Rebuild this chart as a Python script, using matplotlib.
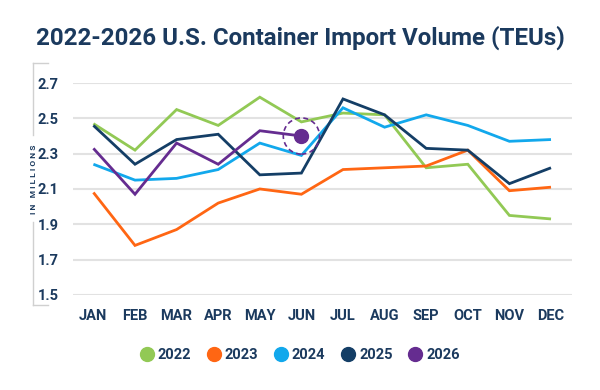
import matplotlib
matplotlib.use("Agg")
from matplotlib import pyplot as plt
from matplotlib.lines import Line2D

plt.rcParams['font.family'] = ['Roboto', 'DejaVu Sans']

months = ["JAN", "FEB", "MAR", "APR", "MAY", "JUN",
          "JUL", "AUG", "SEP", "OCT", "NOV", "DEC"]
yticks = [1.5, 1.7, 1.9, 2.1, 2.3, 2.5, 2.7]

v2022 = [2.47, 2.32, 2.55, 2.46, 2.62, 2.48, 2.53, 2.52, 2.22, 2.24, 1.95, 1.93]
v2023 = [2.08, 1.78, 1.87, 2.02, 2.10, 2.07, 2.21, 2.22, 2.23, 2.32, 2.09, 2.11]
v2024 = [2.24, 2.15, 2.16, 2.21, 2.36, 2.29, 2.56, 2.45, 2.52, 2.46, 2.37, 2.38]
v2025 = [2.46, 2.24, 2.38, 2.41, 2.18, 2.19, 2.61, 2.52, 2.33, 2.32, 2.13, 2.22]
v2026 = [2.33, 2.07, 2.36, 2.24, 2.43, 2.40]

series = [("2022", v2022, "#92c955"),
          ("2023", v2023, "#ff6613"),
          ("2024", v2024, "#12a8ec"),
          ("2025", v2025, "#143e66"),
          ("2026", v2026, "#652c90")]

navy = "#1b3a5e"

fig = plt.figure(figsize=(6, 3.9), dpi=100)
ax = fig.add_axes([0.121, 0.244, 0.832, 0.543])

for name, vals, col in series:
    ax.plot(range(len(vals)), vals, color=col, lw=2.0, solid_capstyle="butt",
            solid_joinstyle="miter", zorder=3)

# highlight latest 2026 point
last = len(v2026) - 1
ax.scatter([last], [v2026[last]], s=100, color="#652c90", zorder=5)
ax.scatter([last], [v2026[last]], s=680, facecolors="none", edgecolors="#652c90",
           linewidths=1.2, linestyles=(0, (3, 2)), zorder=5)

ax.set_xlim(-0.5, 11.5)
ax.set_ylim(1.5, 2.7)
ax.set_yticks(yticks)
ax.set_yticklabels([f"{t:.1f}" for t in yticks])
ax.set_xticks(range(12))
ax.set_xticklabels(months)
ax.grid(axis="y", color="#e2e2e2", lw=1.5, zorder=0)
ax.tick_params(length=0, labelsize=10.5, labelcolor=navy, pad=10)
for lab in ax.get_xticklabels() + ax.get_yticklabels():
    lab.set_fontweight("bold")
for s in ax.spines.values():
    s.set_visible(False)

fig.text(0.5, 0.903, "2022-2026 U.S. Container Import Volume (TEUs)",
         ha="center", va="center", fontsize=17.4, fontweight="bold", color=navy)

# left bracket with "IN MILLIONS"
bc = "#d0d0d0"
fig.add_artist(Line2D([0.055, 0.055], [1 - 63 / 390, 1 - 135 / 390], color=bc, lw=1))
fig.add_artist(Line2D([0.055, 0.055], [1 - 222 / 390, 1 - 305 / 390], color=bc, lw=1))
fig.add_artist(Line2D([0.055, 0.08], [1 - 63 / 390] * 2, color=bc, lw=1))
fig.add_artist(Line2D([0.055, 0.08], [1 - 305 / 390] * 2, color=bc, lw=1))
fig.text(0.055, 1 - 179 / 390, "I N   M I L L I O N S", rotation=90, ha="center",
         va="center", fontsize=6, fontweight="bold", color=navy)

handles = [Line2D([], [], ls="none", marker="o", ms=10, color=c, label=n)
           for n, _, c in series]
fig.legend(handles=handles, loc="center", bbox_to_anchor=(0.5, 0.09), ncol=5,
           frameon=False, handlelength=0.9, handletextpad=0.3, columnspacing=1.1,
           prop={"weight": "bold", "size": 10.5}, labelcolor=navy)

fig.savefig("out.png", dpi=100)
